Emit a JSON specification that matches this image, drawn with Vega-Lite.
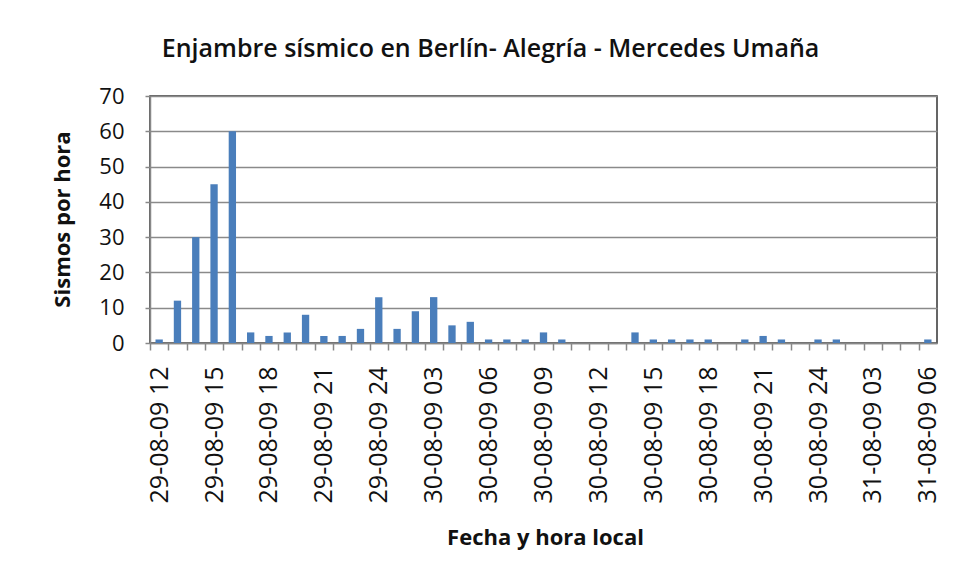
{
  "$schema": "https://vega.github.io/schema/vega-lite/v6.json",
  "width": 787,
  "height": 247,
  "autosize": {"type": "none"},
  "padding": {"left": 150, "top": 96, "right": 23, "bottom": 236},
  "background": "white",
  "title": {
    "text": "Enjambre sísmico en Berlín- Alegría - Mercedes Umaña",
    "font": "Open Sans",
    "fontSize": 25,
    "fontWeight": 600,
    "color": "#111111",
    "anchor": "middle",
    "dx": -53,
    "offset": 23
  },
  "data": {
    "values": [
      {"fecha": "29-08-09 12", "sismos": 1},
      {"fecha": "29-08-09 13", "sismos": 12},
      {"fecha": "29-08-09 14", "sismos": 30},
      {"fecha": "29-08-09 15", "sismos": 45},
      {"fecha": "29-08-09 16", "sismos": 60},
      {"fecha": "29-08-09 17", "sismos": 3},
      {"fecha": "29-08-09 18", "sismos": 2},
      {"fecha": "29-08-09 19", "sismos": 3},
      {"fecha": "29-08-09 20", "sismos": 8},
      {"fecha": "29-08-09 21", "sismos": 2},
      {"fecha": "29-08-09 22", "sismos": 2},
      {"fecha": "29-08-09 23", "sismos": 4},
      {"fecha": "29-08-09 24", "sismos": 13},
      {"fecha": "30-08-09 01", "sismos": 4},
      {"fecha": "30-08-09 02", "sismos": 9},
      {"fecha": "30-08-09 03", "sismos": 13},
      {"fecha": "30-08-09 04", "sismos": 5},
      {"fecha": "30-08-09 05", "sismos": 6},
      {"fecha": "30-08-09 06", "sismos": 1},
      {"fecha": "30-08-09 07", "sismos": 1},
      {"fecha": "30-08-09 08", "sismos": 1},
      {"fecha": "30-08-09 09", "sismos": 3},
      {"fecha": "30-08-09 10", "sismos": 1},
      {"fecha": "30-08-09 11", "sismos": 0},
      {"fecha": "30-08-09 12", "sismos": 0},
      {"fecha": "30-08-09 13", "sismos": 0},
      {"fecha": "30-08-09 14", "sismos": 3},
      {"fecha": "30-08-09 15", "sismos": 1},
      {"fecha": "30-08-09 16", "sismos": 1},
      {"fecha": "30-08-09 17", "sismos": 1},
      {"fecha": "30-08-09 18", "sismos": 1},
      {"fecha": "30-08-09 19", "sismos": 0},
      {"fecha": "30-08-09 20", "sismos": 1},
      {"fecha": "30-08-09 21", "sismos": 2},
      {"fecha": "30-08-09 22", "sismos": 1},
      {"fecha": "30-08-09 23", "sismos": 0},
      {"fecha": "30-08-09 24", "sismos": 1},
      {"fecha": "31-08-09 01", "sismos": 1},
      {"fecha": "31-08-09 02", "sismos": 0},
      {"fecha": "31-08-09 03", "sismos": 0},
      {"fecha": "31-08-09 04", "sismos": 0},
      {"fecha": "31-08-09 05", "sismos": 0},
      {"fecha": "31-08-09 06", "sismos": 1}
    ]
  },
  "mark": {"type": "bar", "color": "#4a7ebb"},
  "encoding": {
    "x": {
      "field": "fecha",
      "type": "nominal",
      "sort": null,
      "scale": {"paddingInner": 0.6, "paddingOuter": 0.3},
      "axis": {
        "title": "Fecha y hora local",
        "titleFont": "Open Sans",
        "titleFontSize": 22,
        "titleFontWeight": "bold",
        "titleColor": "#111111",
        "titleX": 395,
        "titleY": 194,
        "titleBaseline": "middle",
        "titleAlign": "center",
        "labelAngle": -90,
        "labelFont": "Open Sans",
        "labelFontSize": 25,
        "labelColor": "#111111",
        "labelPadding": 16,
        "labelExpr": "parseInt(slice(datum.value, 9)) % 3 == 0 ? datum.value : ''",
        "labelOverlap": false,
        "labelBound": false,
        "labelFlush": false,
        "tickSize": 7,
        "tickColor": "#888888",
        "tickWidth": 1.5,
        "tickOffset": -9.15,
        "labelOffset": 9.15,
        "domainColor": "#888888",
        "domainWidth": 1.5,
        "grid": false
      }
    },
    "y": {
      "field": "sismos",
      "type": "quantitative",
      "scale": {"domain": [0, 70]},
      "axis": {
        "title": "Sismos por hora",
        "titleFont": "Open Sans",
        "titleFontSize": 22,
        "titleFontWeight": "bold",
        "titleColor": "#111111",
        "titleX": -88,
        "titleY": 123,
        "titleAngle": -90,
        "titleBaseline": "middle",
        "titleAlign": "center",
        "values": [0, 10, 20, 30, 40, 50, 60, 70],
        "labelFont": "Open Sans",
        "labelFontSize": 22,
        "labelColor": "#111111",
        "labelPadding": 21,
        "tickSize": 5,
        "tickColor": "#888888",
        "tickWidth": 1.5,
        "gridColor": "#8a8a8a",
        "gridWidth": 1.5,
        "domainColor": "#888888",
        "domainWidth": 1.5
      }
    }
  },
  "config": {"view": {"stroke": "#333333", "strokeWidth": 1.5}}
}
